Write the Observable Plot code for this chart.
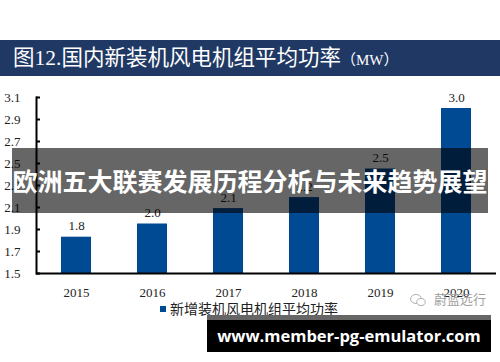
<!DOCTYPE html>
<html>
<head>
<meta charset="utf-8">
<script src="https://cdn.jsdelivr.net/npm/d3@7"></script>
<script src="https://cdn.jsdelivr.net/npm/@observablehq/plot@0.6"></script>
<style>
  html, body { margin: 0; padding: 0; background: #fff; }
  #root { position: relative; width: 500px; height: 362px; overflow: hidden; background: #fff; }
  #title { position: absolute; left: 0; top: 40px; width: 500px; height: 36px; background: #1f3864;
           color: #fff; font-family: "Liberation Serif", "Noto Sans CJK SC", serif; font-size: 21.5px;
           line-height: 36px; padding-left: 13px; box-sizing: border-box; white-space: nowrap; }
  #title .unit { font-size: 15px; }
  #chart { position: absolute; left: 0; top: 80px; }
  #legend { position: absolute; left: 160px; top: 298px; font-family: "Noto Sans CJK SC", sans-serif;
            font-size: 14px; color: #222; white-space: nowrap; line-height: 20px; }
  #legend .sw { display: inline-block; width: 6px; height: 6px; background: #004a93; margin-right: 4px; vertical-align: 2px; }
  #wm { position: absolute; left: 410px; top: 290px; font-family: "Noto Sans CJK SC", sans-serif;
        font-size: 13px; color: #a0a0a0; white-space: nowrap; line-height: 18px; }
  #wm svg { vertical-align: -3px; margin-right: 8px; }
  #band { position: absolute; left: 12px; top: 148px; width: 476px; height: 65px; background: rgba(0,0,0,0.6);
          color: #fff; font-family: "Noto Sans CJK SC", sans-serif; font-weight: 700; font-size: 25px;
          line-height: 65px; text-align: center; white-space: nowrap; }
  #foot-strip { position: absolute; left: 207px; top: 315px; width: 284px; height: 5px; background: #666; }
  #foot { position: absolute; left: 207px; top: 320px; width: 284px; height: 32px; background: #000;
          color: #fff; font-family: "Open Sans", sans-serif; font-weight: 700; font-size: 16.5px;
          line-height: 32px; text-align: center; white-space: nowrap; }
</style>
</head>
<body>
<div id="root">
  <div id="title">图12.国内新装机风电机组平均功率<span class="unit">（MW）</span></div>
  <div id="chart"></div>
  <div id="legend"><span class="sw"></span>新增装机风电机组平均功率</div>
  <div id="wm"><svg width="16" height="14" viewBox="0 0 16 14"><ellipse cx="6" cy="6" rx="5.5" ry="4.5" fill="none" stroke="#b0b0b0" stroke-width="1"/><ellipse cx="11" cy="9" rx="4.2" ry="3.5" fill="#fff" stroke="#b0b0b0" stroke-width="1"/></svg>蔚蓝远行</div>
  <div id="band">欧洲五大联赛发展历程分析与未来趋势展望</div>
  <div id="foot-strip"></div>
  <div id="foot">www.member-pg-emulator.com</div>
</div>
<script>
const years = ["2015", "2016", "2017", "2018", "2019", "2020"];
const power = [1.83, 1.95, 2.09, 2.19, 2.45, 3.0];
const powerLabels = ["1.8", "2.0", "2.1", "2.2", "2.5", "3.0"];
const yTicks = [1.5, 1.7, 1.9, 2.1, 2.3, 2.5, 2.7, 2.9, 3.1];

const data = years.map((y, i) => ({year: y, value: power[i], label: powerLabels[i]}));
const yMin = yTicks[0];
const fmt = d3.format(".1f");

const marks = [
  Plot.barY(data, {x: "year", y1: yMin, y2: "value", fill: "#004a93"}),
  Plot.text(data, {x: "year", y: "value", text: "label", lineAnchor: "bottom", dy: -7, fill: "#222", fontSize: 13}),
  Plot.ruleY([yMin], {stroke: "#000", strokeWidth: 2})
];
let axisOpts;
if (typeof Plot.axisY === "function") {
  marks.push(
    Plot.axisY(yTicks, {tickSize: 4, dx: 4, strokeWidth: 2, stroke: "#000", tickFormat: () => ""}),
    Plot.axisY(yTicks, {tickSize: 0, tickPadding: 16, tickFormat: fmt, fontSize: 13, fill: "#222", stroke: null}),
    Plot.axisX(years, {tickSize: 0, tickPadding: 14, fontSize: 13, fill: "#222"}),
    Plot.frame({anchor: "left", stroke: "#000", strokeWidth: 2})
  );
  axisOpts = {x: {}, y: {}};
} else {
  axisOpts = {
    x: {tickSize: 0, tickPadding: 14},
    y: {ticks: yTicks, tickSize: 0, tickPadding: 16, tickFormat: fmt, line: true}
  };
}

const chart = Plot.plot({
  width: 500,
  height: 225,
  marginTop: 17,
  marginBottom: 32,
  marginLeft: 36,
  marginRight: 4,
  style: {fontFamily: "Liberation Serif, serif", fontSize: "13px", color: "#222", background: "transparent"},
  x: {domain: years, paddingInner: 0.61, paddingOuter: 0.305, label: null, ...axisOpts.x},
  y: {domain: [yTicks[0], yTicks[yTicks.length - 1]], label: null, ...axisOpts.y},
  marks
});
document.getElementById("chart").appendChild(chart);
</script>
</body>
</html>
